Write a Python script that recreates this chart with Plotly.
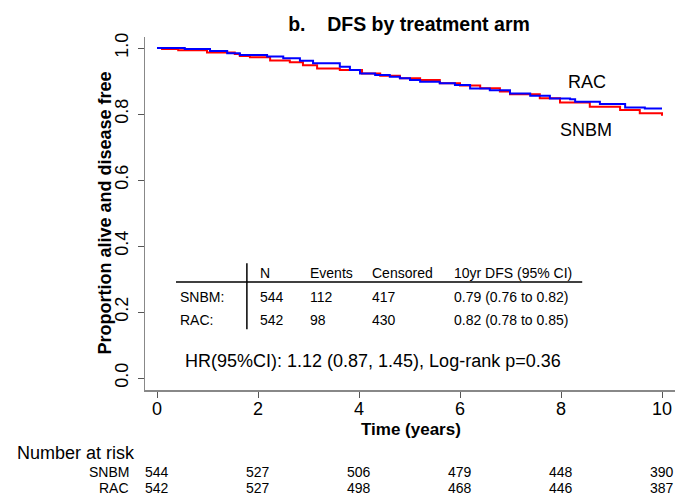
import plotly.graph_objects as go

# ---- data ----
snbm_t = [0.0, 0.10, 0.42, 0.99, 1.54, 1.64, 1.84, 2.24, 2.63, 2.89, 3.17, 3.62, 4.06, 4.42,
          4.81, 5.21, 5.60, 6.00, 6.40, 6.79, 6.99, 7.58, 7.98, 8.57, 9.17, 9.56, 10.0]
snbm_s = [1.000, 0.997, 0.993, 0.986, 0.982, 0.976, 0.972, 0.962, 0.957, 0.948, 0.938, 0.933,
          0.923, 0.916, 0.908, 0.903, 0.893, 0.886, 0.878, 0.868, 0.860, 0.848, 0.835, 0.822,
          0.812, 0.802, 0.795]

rac_t = [0.0, 0.55, 1.05, 1.39, 1.64, 2.18, 2.50, 2.83, 3.09, 3.62, 3.82, 4.02, 4.32, 4.61,
         4.81, 5.01, 5.21, 5.60, 5.90, 6.20, 6.59, 6.99, 7.39, 7.78, 8.18, 8.28, 8.77, 9.27,
         9.66, 10.0]
rac_s = [1.000, 0.997, 0.991, 0.984, 0.979, 0.974, 0.969, 0.961, 0.954, 0.943, 0.933, 0.923,
         0.918, 0.913, 0.908, 0.903, 0.898, 0.893, 0.888, 0.877, 0.872, 0.862, 0.855, 0.847,
         0.845, 0.837, 0.830, 0.820, 0.817, 0.817]

x_ticks = [0, 2, 4, 6, 8, 10]
y_ticks = [0.0, 0.2, 0.4, 0.6, 0.8, 1.0]
y_tick_labels = ["0.0", "0.2", "0.4", "0.6", "0.8", "1.0"]

table_header = ["N", "Events", "Censored", "10yr DFS (95% CI)"]
table_groups = ["SNBM:", "RAC:"]
table_n = ["544", "542"]
table_events = ["112", "98"]
table_censored = ["417", "430"]
table_dfs = ["0.79 (0.76 to 0.82)", "0.82 (0.78 to 0.85)"]

risk_groups = ["SNBM", "RAC"]
risk_times = [0, 2, 4, 6, 8, 10]
risk_snbm = [544, 527, 506, 479, 448, 390]
risk_rac = [542, 527, 498, 468, 446, 387]

hr_text = "HR(95%CI): 1.12 (0.87, 1.45), Log-rank p=0.36"

FONT = "Liberation Sans, Arial, sans-serif"
W, H = 675, 495
# plot area in page pixels
PX0, PX1, PY0, PY1 = 145, 675, 37, 390
L, R, T, B = PX0, W - PX1, PY0, H - PY1
plot_w = PX1 - PX0
plot_h = PY1 - PY0


def py2paper(py):
    return (PY1 - py) / plot_h


def px2paper(px):
    return (px - PX0) / plot_w


fig = go.Figure()
fig.add_trace(go.Scatter(x=snbm_t, y=snbm_s, mode="lines", line=dict(color="#FF0000", width=2, shape="hv"),
                         name="SNBM", showlegend=False, hoverinfo="skip"))
fig.add_trace(go.Scatter(x=rac_t, y=rac_s, mode="lines", line=dict(color="#0000FF", width=2, shape="hv"),
                         name="RAC", showlegend=False, hoverinfo="skip"))

ann = []
black = lambda s: dict(size=s, color="black")
# curve labels
ann.append(dict(x=8.52, y=0.897, xref="x", yref="y", text="RAC", showarrow=False,
                xanchor="center", yanchor="middle", font=black(18)))
ann.append(dict(x=8.50, y=0.752, xref="x", yref="y", text="SNBM", showarrow=False,
                xanchor="center", yanchor="middle", font=black(18)))

# summary table
col_x = [2.0, 2.99, 4.22, 5.84]
row_y = [0.245, 0.176]
for cx, h in zip(col_x, table_header):
    ann.append(dict(x=cx, y=0.318, xref="x", yref="y", text=h, showarrow=False, xanchor="left",
                    yanchor="middle", font=black(14)))
for i, g in enumerate(table_groups):
    ann.append(dict(x=0.416, y=row_y[i], xref="x", yref="y", text=g, showarrow=False, xanchor="left",
                    yanchor="middle", font=black(14)))
    for cx, v in zip(col_x, [table_n[i], table_events[i], table_censored[i], table_dfs[i]]):
        ann.append(dict(x=cx, y=row_y[i], xref="x", yref="y", text=v, showarrow=False, xanchor="left",
                        yanchor="middle", font=black(14)))

ann.append(dict(x=0.515, y=0.052, xref="x", yref="y", text=hr_text, showarrow=False, xanchor="left",
                yanchor="middle", font=black(18)))

# axis titles
ann.append(dict(x=px2paper(104), y=0.5, xref="paper", yref="paper",
                text="<b>Proportion alive and disease free</b>", textangle=-90, showarrow=False,
                xanchor="center", yanchor="middle", font=black(18)))
ann.append(dict(x=px2paper(411), y=py2paper(429), xref="paper", yref="paper",
                text="<b>Time (years)</b>", showarrow=False, xanchor="center", yanchor="middle",
                font=black(17)))

# number at risk
ann.append(dict(x=px2paper(15), y=py2paper(453), xref="paper", yref="paper",
                text="Number at risk", showarrow=False, xanchor="left", yanchor="middle", font=black(18)))
for g, py, vals in zip(risk_groups, [472, 488], [risk_snbm, risk_rac]):
    ann.append(dict(x=px2paper(131), y=py2paper(py), xref="paper", yref="paper",
                    text=g, showarrow=False, xanchor="right", yanchor="middle", font=black(14)))
    for t, v in zip(risk_times, vals):
        ann.append(dict(x=t, y=py2paper(py), xref="x", yref="paper", text=str(v), showarrow=False,
                        xanchor="center", yanchor="middle", font=black(14)))

shapes = [
    dict(type="line", xref="x", yref="y", x0=0.376, x1=8.42, y0=0.291, y1=0.291,
         line=dict(color="black", width=1.5)),
    dict(type="line", xref="x", yref="y", x0=1.78, x1=1.78, y0=0.148, y1=0.348,
         line=dict(color="black", width=1.5)),
]

fig.update_layout(
    width=W, height=H,
    margin=dict(l=L, r=R, t=T, b=B, pad=0, autoexpand=False),
    paper_bgcolor="white", plot_bgcolor="white",
    font=dict(family=FONT, color="black"),
    hovermode=False,
    title=dict(text="<b>b.&nbsp;&nbsp;&nbsp;&nbsp;DFS by treatment arm</b>", x=px2paper(409), xref="paper",
               xanchor="center", y=1 - 24 / H, yref="container", yanchor="middle",
               font=black(19.5)),
    annotations=ann,
    shapes=shapes,
    xaxis=dict(range=[-12 / 50.5, (plot_w - 12) / 50.5], tickvals=x_ticks, ticks="outside", ticklen=6,
               tickcolor="#555555", showline=True, linecolor="#888888", linewidth=1.5, showgrid=False,
               zeroline=False, automargin=False, ticklabelstandoff=-4, tickfont=black(18)),
    yaxis=dict(range=[-12 / 330, 1 + 11 / 330], tickvals=y_ticks, ticktext=y_tick_labels, tickangle=-90,
               ticks="outside", ticklen=6, tickcolor="#555555", showline=True, linecolor="#888888",
               linewidth=1.5, showgrid=False, zeroline=False, automargin=False, ticklabelstandoff=2,
               tickfont=black(18)),
)

fig.write_html(
    "out.html",
    config={"displayModeBar": False, "staticPlot": True},
    post_script=("document.body.style.margin='0';"
                 "document.documentElement.style.overflow='hidden';"
                 "document.body.style.overflow='hidden';"),
)
